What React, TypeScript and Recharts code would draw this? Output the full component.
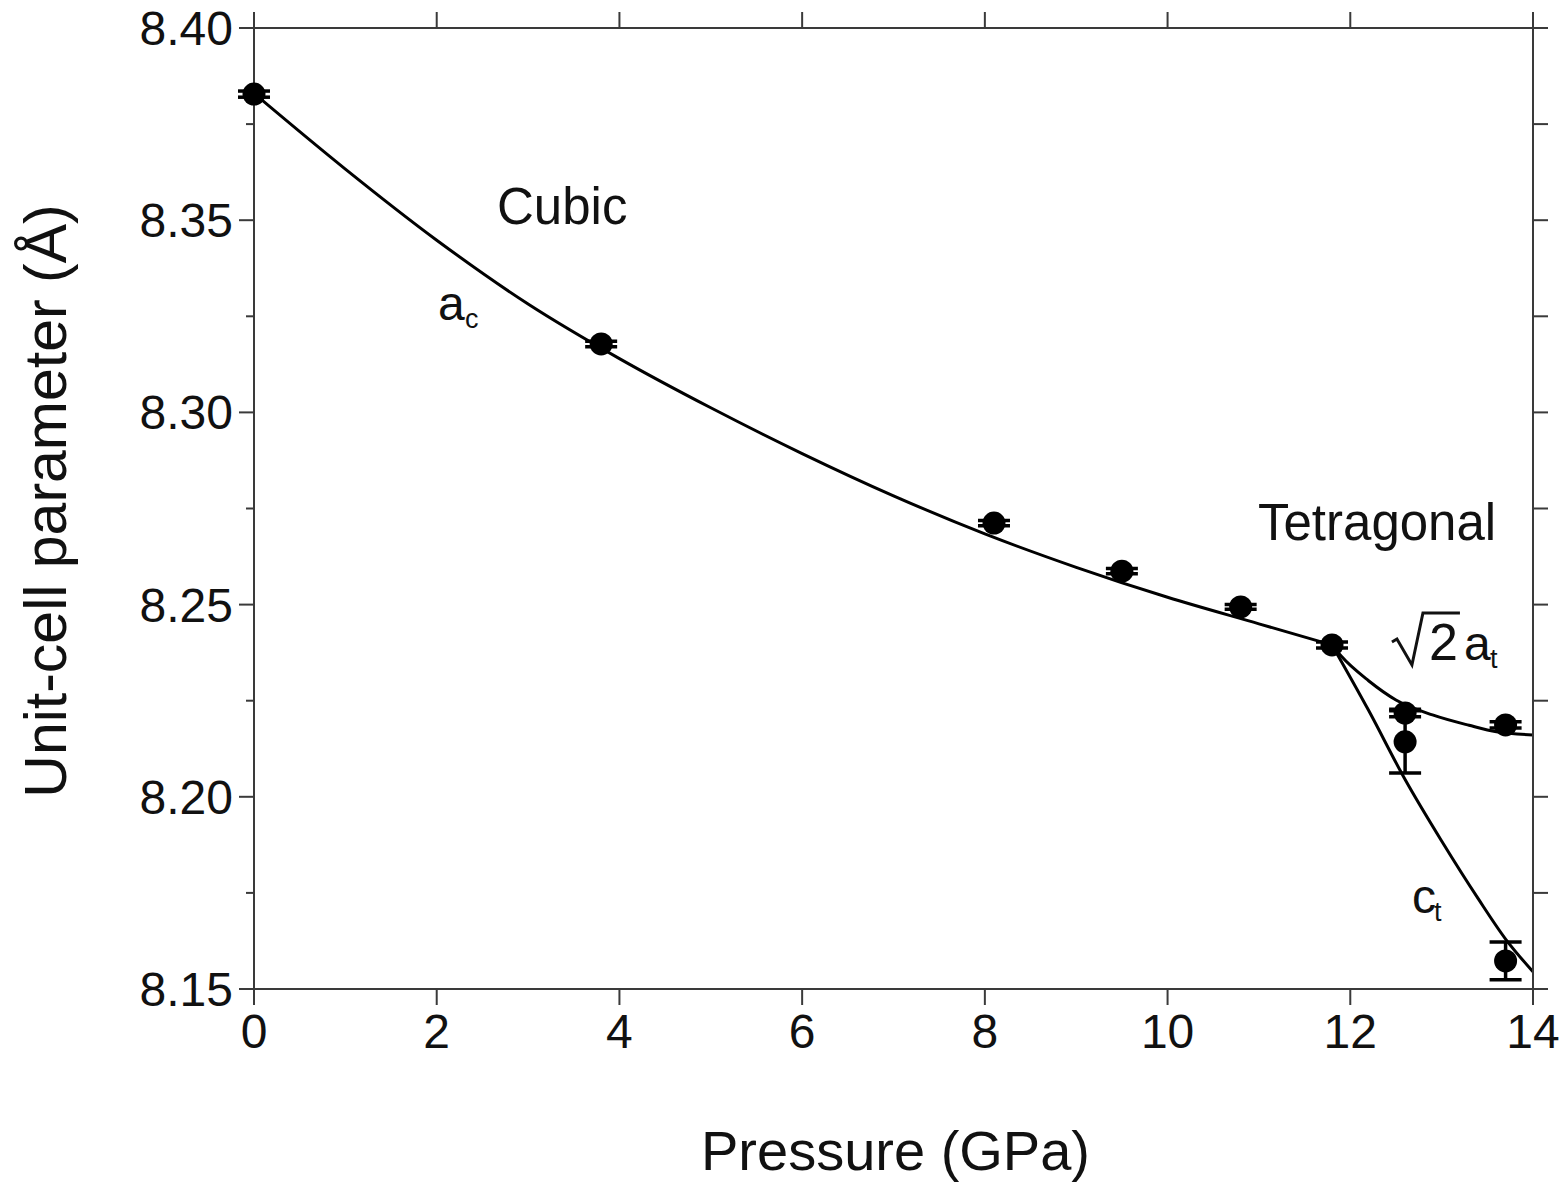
import React from 'react'
import { ComposedChart, Line, Scatter, ErrorBar, XAxis, YAxis, ReferenceDot, Label } from 'recharts'

// measured points (GPa, Å, ±err)
const cubicP = [0, 3.8, 8.1, 9.5, 10.8, 11.8]
const cubicA = [8.3828, 8.3178, 8.2712, 8.2587, 8.2494, 8.2395]
const cubicErr = [0.0008, 0.0007, 0.0007, 0.0007, 0.0006, 0.0008]

const tetP = [12.6, 13.7]
const tetA = [8.2218, 8.2187]
const tetAErr = [0.001, 0.0008]
const tetC = [8.2143, 8.1573]
const tetCErr = [0.0081, 0.0049]

// fitted curves
const fitCubicP = [0, 1, 2, 3, 4, 5, 6, 7, 8, 9, 10, 11, 11.8]
const fitCubicV = [8.383, 8.3633, 8.3448, 8.3282, 8.314, 8.3012, 8.2893, 8.2783, 8.2684, 8.2597, 8.2519, 8.245, 8.2395]
const fitAtP = [11.8, 11.9, 12.2, 12.5, 12.9, 13.3, 13.6, 14]
const fitAtV = [8.2395, 8.2366, 8.2302, 8.2252, 8.2213, 8.2186, 8.2169, 8.2161]
const fitCtP = [11.8, 12.2, 12.6, 13.0, 13.4, 13.7, 14]
const fitCtV = [8.2395, 8.2225, 8.2045, 8.1885, 8.1735, 8.163, 8.1545]

const xTicks = [0, 2, 4, 6, 8, 10, 12, 14]
const yTicks = [8.15, 8.175, 8.2, 8.225, 8.25, 8.275, 8.3, 8.325, 8.35, 8.375, 8.4]

const zip = (p: number[], v: number[], e?: number[]) => p.map((x, i) => ({ p: x, v: v[i], e: e ? e[i] : 0 }))

const cubicData = zip(cubicP, cubicA, cubicErr)
const atData = zip(tetP, tetA, tetAErr)
const ctData = zip(tetP, tetC, tetCErr)

const FONT = '"Liberation Sans", Arial, Helvetica, sans-serif'
const AXIS = '#3a3a3a'

const LeftTick = (props: any) => {
  const { x, y, payload } = props
  const v = payload.value as number
  const major = Math.round(v * 1000) % 50 === 0
  return (
    <g>
      <line x1={x - (major ? 15 : 8)} x2={x} y1={y} y2={y} stroke={AXIS} strokeWidth={2} />
      {major && (
        <text x={x - 21} y={y + 17} textAnchor="end" fontFamily={FONT} fontSize={48} fill="#111">
          {v.toFixed(2)}
        </text>
      )}
    </g>
  )
}

const RightTick = (props: any) => (
  <line x1={props.x} x2={props.x + 15} y1={props.y} y2={props.y} stroke={AXIS} strokeWidth={2} />
)

const TopTick = (props: any) => (
  <line x1={props.x} x2={props.x} y1={props.y} y2={props.y - 16} stroke={AXIS} strokeWidth={2} />
)

const BottomTick = (props: any) => {
  const { x, y, payload } = props
  return (
    <g>
      <line x1={x} x2={x} y1={y} y2={y + 16} stroke={AXIS} strokeWidth={2} />
      <text x={x} y={y + 59} textAnchor="middle" fontFamily={FONT} fontSize={48} fill="#111">
        {payload.value}
      </text>
    </g>
  )
}

const dot = (p: any) => <circle cx={p.cx} cy={p.cy} r={11.5} fill="#000" />

const txt = (s: string, size = 50) => (p: any) => (
  <text x={p.cx} y={p.cy} fontFamily={FONT} fontSize={size} fill="#111">{s}</text>
)

const sub = (main: string, small: string, dx: number) => (p: any) => (
  <g fontFamily={FONT} fill="#111">
    <text x={p.cx} y={p.cy} fontSize={48}>{main}</text>
    <text x={p.cx + dx} y={p.cy + 8} fontSize={27}>{small}</text>
  </g>
)

const sqrt2at = (p: any) => {
  const { cx, cy } = p
  return (
    <g fontFamily={FONT} fill="#111">
      <path
        d={`M${cx},${cy - 18} L${cx + 5},${cy - 21} L${cx + 20},${cy + 5} L${cx + 31},${cy - 47} L${cx + 68},${cy - 47}`}
        fill="none" stroke="#111" strokeWidth={3}
      />
      <text x={cx + 37} y={cy} fontSize={52}>2</text>
      <text x={cx + 72} y={cy} fontSize={48}>a</text>
      <text x={cx + 98} y={cy + 8} fontSize={27}>t</text>
    </g>
  )
}

export default function App() {
  return (
    <div style={{ position: 'absolute', left: 0, top: 0, background: '#fff' }}>
      <ComposedChart width={1567} height={1186} margin={{ top: 12, right: 19, left: 0, bottom: 0 }}>
        <XAxis
          type="number" dataKey="p" domain={[0, 14]} ticks={xTicks}
          height={197} tickSize={0} tickMargin={0} tickLine={false}
          axisLine={{ stroke: AXIS, strokeWidth: 2 }} tick={<BottomTick />}
        >
          <Label
            content={(lp: any) => {
              const vb = lp.viewBox
              return (
                <text x={vb.x + vb.width / 2 + 2} y={vb.y + 181} textAnchor="middle" fontFamily={FONT} fontSize={56} fill="#111">
                  Pressure (GPa)
                </text>
              )
            }}
          />
        </XAxis>
        <XAxis
          xAxisId="top" orientation="top" type="number" dataKey="p" domain={[0, 14]} ticks={xTicks}
          height={16} tickSize={0} tickMargin={0} tickLine={false} tick={<TopTick />}
          axisLine={{ stroke: AXIS, strokeWidth: 2 }}
        />
        <YAxis
          type="number" dataKey="v" domain={[8.15, 8.4]} ticks={yTicks}
          width={254} tickSize={0} tickMargin={0} tickLine={false}
          axisLine={{ stroke: AXIS, strokeWidth: 2 }} tick={<LeftTick />}
        >
          <Label
            content={() => (
              <text x={66} y={501} transform="rotate(-90 66 501)" textAnchor="middle" fontFamily={FONT} fontSize={59} fill="#111">
                Unit-cell parameter (Å)
              </text>
            )}
          />
        </YAxis>
        <YAxis
          yAxisId="right" orientation="right" type="number" dataKey="v" domain={[8.15, 8.4]} ticks={yTicks}
          width={15} tickSize={0} tickMargin={0} tickLine={false} tick={<RightTick />}
          axisLine={{ stroke: AXIS, strokeWidth: 2 }}
        />

        <Line data={zip(fitCubicP, fitCubicV)} dataKey="v" type="monotone" stroke="#000" strokeWidth={3} dot={false} isAnimationActive={false} />
        <Line data={zip(fitAtP, fitAtV)} dataKey="v" type="monotone" stroke="#000" strokeWidth={3} dot={false} isAnimationActive={false} />
        {/* same scale as the primary axes; bound here so the frame axes get ticks */}
        <Line xAxisId="top" yAxisId="right" data={zip(fitCtP, fitCtV)} dataKey="v" type="monotone" stroke="#000" strokeWidth={3} dot={false} isAnimationActive={false} />

        <Scatter data={cubicData} dataKey="v" shape={dot} isAnimationActive={false}>
          <ErrorBar dataKey="e" direction="y" width={16} stroke="#000" strokeWidth={3.5} isAnimationActive={false} />
        </Scatter>
        <Scatter data={atData} dataKey="v" shape={dot} isAnimationActive={false}>
          <ErrorBar dataKey="e" direction="y" width={16} stroke="#000" strokeWidth={3.5} isAnimationActive={false} />
        </Scatter>
        <Scatter data={ctData} dataKey="v" shape={dot} isAnimationActive={false}>
          <ErrorBar dataKey="e" direction="y" width={16} stroke="#000" strokeWidth={3.5} isAnimationActive={false} />
        </Scatter>

        <ReferenceDot x={2.66} y={8.349} r={0} shape={txt('Cubic', 51)} />
        <ReferenceDot x={2.014} y={8.324} r={0} shape={sub('a', 'c', 27)} />
        <ReferenceDot x={10.99} y={8.2668} r={0} shape={txt('Tetragonal', 51)} />
        <ReferenceDot x={12.456} y={8.2356} r={0} shape={sqrt2at} />
        <ReferenceDot x={12.675} y={8.1698} r={0} shape={sub('c', 't', 22)} />
      </ComposedChart>
    </div>
  )
}
